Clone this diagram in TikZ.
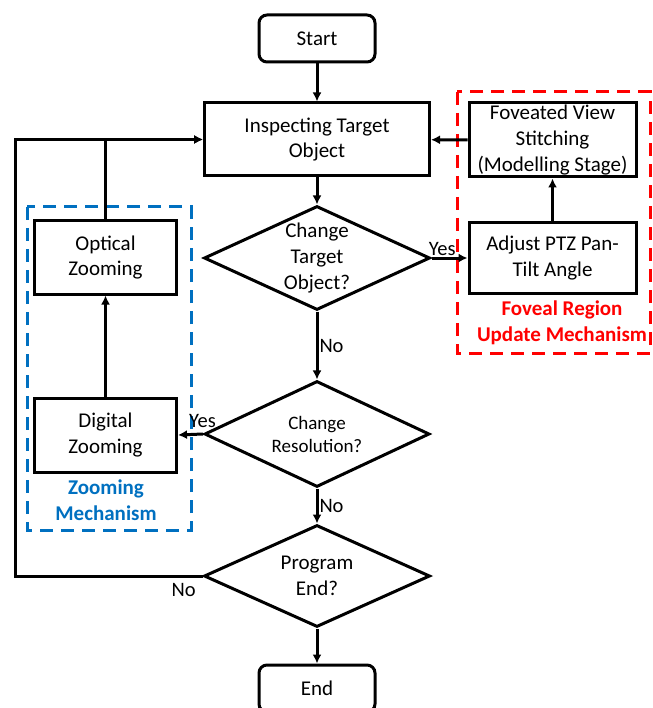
\documentclass[tikz,border=0pt]{standalone}
\usepackage{fontspec}
\setmainfont{Carlito}
\usetikzlibrary{arrows.meta,shapes.geometric}

\definecolor{zoomblue}{RGB}{0,112,192}
\definecolor{fovred}{RGB}{255,0,0}

\tikzset{
  process/.style={rectangle, draw, line width=3pt, align=center, inner sep=2pt,
    font=\fontsize{21}{25.6}\selectfont},
  terminal/.style={process, rounded corners=8pt, minimum width=116pt, minimum height=47pt},
  decision/.style={diamond, draw, line width=3pt, align=center, inner sep=-20pt,
    font=\fontsize{21}{25.6}\selectfont},
  arr/.style={line width=3pt, -{Latex[length=9pt,width=9pt]}},
  answer/.style={font=\fontsize{20.5}{24}\selectfont, inner sep=1pt},
  groupbox/.style={line width=3pt, dash pattern=on 13pt off 8pt},
  grouptitle/.style={align=center, font=\bfseries\fontsize{21}{25.6}\selectfont}
}

\begin{document}
\begin{tikzpicture}[x=1pt, y=-1pt]
    \useasboundingbox (0,0) rectangle (652,708);

    % groups
    \draw[groupbox, zoomblue] (27,207) rectangle (191,530);
    \draw[groupbox, fovred] (457,92) rectangle (650,353);

    % main column
    \node[terminal] (start) at (317,38.5) {Start};
    \node[process, minimum width=225pt, minimum height=73pt] (inspect) at (317,139.5) {Inspecting Target\\Object};
    \node[decision, minimum width=226pt, minimum height=104pt] (change) at (317,258) {Change\\Target\\Object?};
    \node[decision, minimum width=225pt, minimum height=106pt, font=\fontsize{19}{23}\selectfont] (res) at (317,434) {Change\\Resolution?};
    \node[decision, minimum width=226pt, minimum height=102pt] (prog) at (317,576) {Program\\End?};
    \node[terminal] (end) at (317,688.5) {End};

    % foveal region
    \node[process, minimum width=167pt, minimum height=74pt] (fovea) at (552.5,140) {Foveated View\\Stitching\\(Modelling Stage)};
    \node[process, minimum width=167pt, minimum height=70pt] (adjust) at (552.5,258) {Adjust PTZ Pan-\\Tilt Angle};
    \node[grouptitle, text=fovred] (fovtitle) at (562,323) {Foveal Region\\Update Mechanism};

    % zooming
    \node[process, minimum width=142pt, minimum height=73pt] (optical) at (105.5,257.5) {Optical\\Zooming};
    \node[process, minimum width=142pt, minimum height=74pt] (digital) at (105.5,435) {Digital\\Zooming};
    \node[grouptitle, text=zoomblue] (zoomtitle) at (106,500) {Zooming\\Mechanism};

    \coordinate (back) at (15,576);

    \draw[arr] (start) -- (inspect);
    \draw[arr] (inspect) -- (change);
    \draw[arr] (change.east) -- node[answer, above, pos=0.3] (yes1) {Yes} (adjust.west);
    \draw[arr] (adjust) -- (fovea);
    \draw[arr] (fovea) -- (inspect);
    \draw[arr] (change) -- node[answer, right] (no1) {No} (res);
    \draw[arr] (res.west) -- node[answer, above, pos=0.02, yshift=4pt] (yes2) {Yes} (digital.east);
    \draw[arr] (digital) -- (optical);
    \draw[arr] (optical.north) |- (inspect.west);
    \draw[arr] (res) -- node[answer, right] (no2) {No} (prog);
    \draw[arr] (prog.west) -- node[answer, below, pos=0.1, yshift=-5pt] (no3) {No} (back) |- (inspect.west);
    \draw[arr] (prog) -- (end);
\end{tikzpicture}
\end{document}
